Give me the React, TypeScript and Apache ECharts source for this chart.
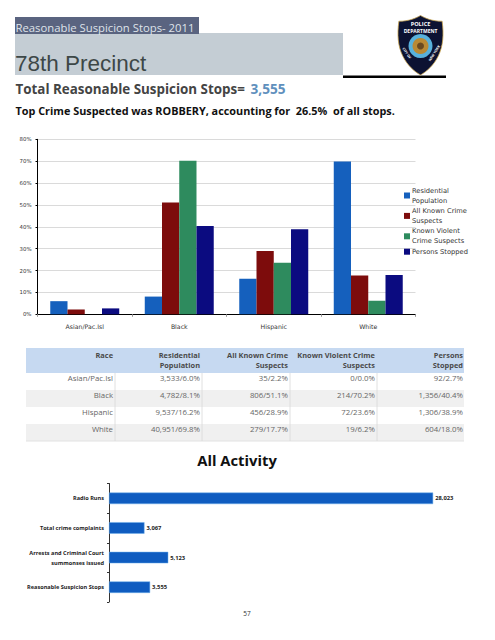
import React, { useEffect, useRef } from "react";
import * as echarts from "echarts";

const races = ["Asian/Pac.Isl", "Black", "Hispanic", "White"];
const residentialPct = [6.0, 8.1, 16.2, 69.8];
const allCrimePct = [2.2, 51.1, 28.9, 17.7];
const violentPct = [0.0, 70.2, 23.6, 6.2];
const stoppedPct = [2.7, 40.4, 38.9, 18.0];
const seriesNames = ["Residential Population", "All Known Crime Suspects", "Known Violent Crime Suspects", "Persons Stopped"];
const legendLabels = ["Residential\nPopulation", "All Known Crime\nSuspects", "Known Violent\nCrime Suspects", "Persons Stopped"];
const seriesColors = ["#1560bd", "#7d0c0c", "#2e8b5e", "#0b0b80"];

const tableHeaders = [["Race"], ["Residential", "Population"], ["All Known Crime", "Suspects"], ["Known Violent Crime", "Suspects"], ["Persons", "Stopped"]];
const tableRows = [
  ["Asian/Pac.Isl", "3,533/6.0%", "35/2.2%", "0/0.0%", "92/2.7%"],
  ["Black", "4,782/8.1%", "806/51.1%", "214/70.2%", "1,356/40.4%"],
  ["Hispanic", "9,537/16.2%", "456/28.9%", "72/23.6%", "1,306/38.9%"],
  ["White", "40,951/69.8%", "279/17.7%", "19/6.2%", "604/18.0%"],
];

const activityNames = ["Radio Runs", "Total crime complaints", "Arrests and Criminal Court\nsummonses issued", "Reasonable Suspicion Stops"];
const activityValues = [28023, 3067, 5123, 3555];

const SHIELD = "M2 6 C12 6 20 3 25 0 C30 3 38 6 48 6 C50 20 49 32 44 42 C39 52 32 58 25 62 C18 58 11 52 6 42 C1 32 0 20 2 6 Z";
echarts.graphic.registerShape("shield", echarts.graphic.extendPath(SHIELD as any, {}) as any);

const CALIBRI = "'Open Sans', 'Noto Sans', sans-serif";

function text(x: number, y: number, t: string, size: number, fill: string, extra: any = {}, rotation = 0) {
  return {
    type: "text",
    x,
    y,
    rotation,
    z: 20,
    style: { text: t, fontSize: size, fill, fontFamily: CALIBRI, textVerticalAlign: "middle", ...extra },
  };
}

function buildGraphic() {
  const g: any[] = [];
  g.push({ type: "rect", shape: { x: 15, y: 33, width: 328, height: 42 }, style: { fill: "#c4cdd4" } });
  g.push({ type: "rect", shape: { x: 15, y: 17, width: 184, height: 17 }, style: { fill: "#5a6480" } });
  g.push({ type: "rect", shape: { x: 343, y: 75.5, width: 103, height: 2.5 }, style: { fill: "#000000" } });
  g.push(text(15.5, 27.5, "Reasonable Suspicion Stops- 2011", 11.3, "#dfe3ea"));
  g.push(text(15, 63, "78th Precinct", 22.5, "#3d4747", { fontFamily: "'Liberation Sans', Arial, sans-serif" }));
  g.push(text(15.5, 88.5, "Total Reasonable Suspicion Stops=", 13.4, "#444444", { fontWeight: "bold" }));
  g.push(text(250.5, 88.5, "3,555", 13.6, "#5f90bd", { fontWeight: "bold" }));
  g.push(text(15.5, 110.5, "Top Crime Suspected was ROBBERY, accounting for  26.5%  of all stops.", 10.85, "#111111", { fontWeight: "bold" }));

  // badge
  g.push({ type: "shield", x: 397, y: 15.5, scaleX: 0.94, scaleY: 0.96, z: 10, style: { fill: "#0c1232", stroke: "#c9a24a", lineWidth: 0.8 } });
  g.push({ type: "circle", shape: { cx: 420.5, cy: 46, r: 12 }, z: 11, style: { fill: "#58b1dc" } });
  g.push({ type: "circle", shape: { cx: 420.5, cy: 46, r: 8 }, z: 12, style: { fill: "#b98a35" } });
  g.push({ type: "circle", shape: { cx: 420.5, cy: 46, r: 3.5 }, z: 13, style: { fill: "#6a4a20" } });
  g.push(text(420.5, 24, "POLICE", 5.6, "#ffffff", { textAlign: "center", fontWeight: "bold" }));
  g.push(text(420.5, 30.5, "DEPARTMENT", 5, "#ffffff", { textAlign: "center", fontWeight: "bold" }));
  g.push(text(407, 53, "CITY OF", 3.4, "#ffffff", { textAlign: "center", fontWeight: "bold" }, -1));
  g.push(text(434, 53, "NEW YORK", 3.4, "#ffffff", { textAlign: "center", fontWeight: "bold" }, 1));

  // table
  const colRight = [113, 200, 288, 375, 463];
  const rowTop = [373, 390, 407, 424];
  g.push({ type: "rect", shape: { x: 26, y: 348, width: 438, height: 25 }, style: { fill: "#c6d9f1" } });
  rowTop.forEach((y, i) => {
    if (i % 2 === 1) g.push({ type: "rect", shape: { x: 26, y, width: 438, height: 17 }, style: { fill: "#f0f0f0" } });
  });
  g.push({ type: "line", shape: { x1: 26, y1: 441, x2: 464, y2: 441 }, style: { stroke: "#e2e2e2", lineWidth: 1 } });
  colRight.slice(0, 4).forEach((x) => {
    g.push({ type: "line", shape: { x1: x + 2, y1: 373, x2: x + 2, y2: 441 }, style: { stroke: "#d8d8d8", lineWidth: 0.8 } });
  });
  tableHeaders.forEach((lines, c) => {
    lines.forEach((l, i) => {
      g.push(text(colRight[c], 354.5 + i * 10.5, l, 7.4, "#4a4a4a", { textAlign: "right", fontWeight: "bold" }));
    });
  });
  tableRows.forEach((row, r) => {
    row.forEach((cell, c) => {
      g.push(text(colRight[c], rowTop[r] + 5.3, cell, 7.8, "#666666", { textAlign: "right" }));
    });
  });

  g.push(text(237, 459.5, "All Activity", 14.8, "#111111", { textAlign: "center", fontWeight: "bold" }));
  g.push(text(247, 613.5, "57", 6.5, "#333333", { textAlign: "center" }));
  return g;
}

export default function App() {
  const ref = useRef<HTMLDivElement>(null);
  useEffect(() => {
    const chart = echarts.init(ref.current!, undefined, { renderer: "svg" });
    const pctValues = [residentialPct, allCrimePct, violentPct, stoppedPct];
    chart.setOption({
      animation: false,
      backgroundColor: "#ffffff",
      textStyle: { fontFamily: CALIBRI },
      legend: {
        orient: "vertical",
        left: 404,
        top: 185.5,
        itemWidth: 6,
        itemHeight: 6,
        itemGap: 0.4,
        icon: "rect",
        padding: 0,
        data: seriesNames,
        formatter: (n: string) => legendLabels[seriesNames.indexOf(n)],
        textStyle: { fontSize: 6.7, color: "#333333", lineHeight: 10, padding: [0, 0, 0, -3], fontFamily: "'DejaVu Sans', sans-serif" },
      },
      grid: [
        { left: 37.5, top: 139.3, width: 378, height: 175, containLabel: false },
        { left: 109, top: 483.5, width: 347, height: 118.5, containLabel: false },
      ],
      xAxis: [
        {
          gridIndex: 0,
          type: "category",
          data: races,
          axisLine: { lineStyle: { color: "#000000", width: 1 } },
          axisTick: { show: true, length: 2.5, lineStyle: { color: "#999999" } },
          axisLabel: { fontSize: 6.2, color: "#333333", margin: 9, fontFamily: "'DejaVu Sans', sans-serif" },
        },
        {
          gridIndex: 1,
          type: "value",
          min: 0,
          max: 30000,
          show: false,
          splitLine: { show: false },
        },
      ],
      yAxis: [
        {
          gridIndex: 0,
          type: "value",
          min: 0,
          max: 80,
          interval: 10,
          axisLine: { show: true, lineStyle: { color: "#000000", width: 1 } },
          axisTick: { show: true, length: 2, lineStyle: { color: "#000000" } },
          splitLine: { lineStyle: { color: "#dadada", width: 1 } },
          axisLabel: { fontSize: 5.4, color: "#333333", margin: 6, formatter: "{value}%", fontFamily: "'DejaVu Sans', sans-serif" },
        },
        {
          gridIndex: 1,
          type: "category",
          inverse: true,
          data: activityNames,
          axisLine: { lineStyle: { color: "#333333", width: 1 } },
          axisTick: { show: true, length: 2, lineStyle: { color: "#333333" } },
          axisLabel: { fontSize: 5.6, color: "#222222", margin: 5, lineHeight: 10, fontWeight: "bold", align: "right", fontFamily: "'Open Sans', sans-serif" },
        },
      ],
      series: [
        ...seriesNames.map((name, i) => ({
          type: "bar",
          name,
          xAxisIndex: 0,
          yAxisIndex: 0,
          data: pctValues[i],
          barGap: 0,
          barCategoryGap: "27%",
          itemStyle: { color: seriesColors[i] },
        })),
        {
          type: "bar",
          name: "Activity",
          xAxisIndex: 1,
          yAxisIndex: 1,
          data: activityValues,
          barWidth: 11.5,
          itemStyle: { color: "#0f5cc0", borderColor: "#6fb0ea", borderWidth: 0.5 },
          label: {
            show: true,
            position: "right",
            distance: 2,
            fontSize: 5.8,
            fontWeight: "bold",
            color: "#222222",
            formatter: (p: any) => Number(p.value).toLocaleString("en-US"),
          },
        },
      ],
      graphic: { elements: buildGraphic() },
    });
    return () => chart.dispose();
  }, []);
  return <div ref={ref} style={{ position: "fixed", left: 0, top: 0, width: 495, height: 640 }} />;
}
